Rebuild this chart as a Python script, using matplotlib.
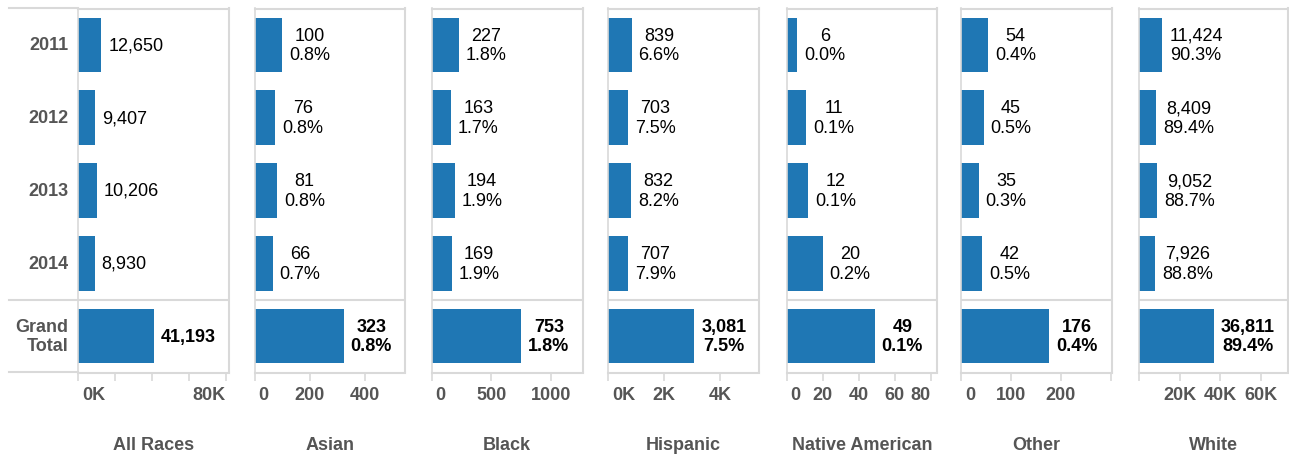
import matplotlib
matplotlib.use('Agg')
from matplotlib import pyplot as plt
import numpy as np

plt.rcParams['font.family'] = ['Liberation Sans', 'DejaVu Sans']

# ------------------------------------------------------------------
# Data
# ------------------------------------------------------------------
years = ['2011', '2012', '2013', '2014']
races = ['All Races', 'Asian', 'Black', 'Hispanic', 'Native American', 'Other', 'White']

all_races       = [12650, 9407, 10206, 8930]
asian           = [100, 76, 81, 66]
black           = [227, 163, 194, 169]
hispanic        = [839, 703, 832, 707]
native_american = [6, 11, 12, 20]
other           = [54, 45, 35, 42]
white           = [11424, 8409, 9052, 7926]

series = [all_races, asian, black, hispanic, native_american, other, white]

# axis ranges and ticks per panel
x_max = [81400, 545, 1265, 5390, 83.6, 302, 73200]
x_ticks = [[0, 20000, 40000, 60000, 80000], [0, 200, 400], [0, 500, 1000],
           [0, 2000, 4000], [0, 20, 40, 60, 80], [0, 100, 200, 300],
           [0, 20000, 40000, 60000]]
x_tick_labels = [['0K', '', '', '', '80K'], ['0', '200', '400'], ['0', '500', '1000'],
                 ['0K', '2K', '4K'], ['0', '20', '40', '60', '80'], ['0', '100', '200', ''],
                 ['', '20K', '40K', '60K']]

# ------------------------------------------------------------------
# Layout (pixels)
# ------------------------------------------------------------------
W, H = 1289, 456
lefts  = [78, 254.5, 431.5, 608, 786.5, 961, 1139]
widths = [150.5, 150.5, 151, 151, 150.5, 151, 149]
top_px, bot_px = 9.5, 373.5

BLUE  = '#1f77b4'
FRAME = '#d9d9d9'
GRAY  = '#555555'
FS    = 13

fig = plt.figure(figsize=(W / 100, H / 100), dpi=100)

totals = all_races + [sum(all_races)]
row_labels = years + ['Grand\nTotal']

for i, (name, vals) in enumerate(zip(races, series)):
    ax = fig.add_axes([lefts[i] / W, 1 - bot_px / H, widths[i] / W, (bot_px - top_px) / H])
    values = vals + [sum(vals)]
    y = np.arange(len(values))
    ax.barh(y, values, height=0.75, color=BLUE, zorder=2)
    ax.set_ylim(len(values) - 0.5, -0.5)
    ax.set_xlim(0, x_max[i])
    ax.set_yticks([])
    ax.set_xticks(x_ticks[i], labels=[''] * len(x_ticks[i]))
    ax.tick_params(axis='x', length=6, width=1.2, color=FRAME, labelbottom=False)

    for side, spine in ax.spines.items():
        spine.set_color(FRAME)
        spine.set_linewidth(1.5 if side != 'left' else 1.2)
    ax.axhline(3.5, color=FRAME, lw=1.5, zorder=1)

    # value labels
    for j, v in enumerate(values):
        if i == 0:
            text = f'{v:,}'
        else:
            text = f'{v:,}\n{v / totals[j] * 100:.1f}%'
        ax.annotate(text, xy=(v, j), xytext=(5, 0), textcoords='offset points',
                    ha='left', va='center', multialignment='center', fontsize=FS,
                    color='black', fontweight='bold' if j == len(values) - 1 else 'normal')

    # tick labels, pulled inward at the panel edges
    xt = ax.get_xaxis_transform()
    for t, lab in zip(x_ticks[i], x_tick_labels[i]):
        if not lab:
            continue
        ha, dx = 'center', 0
        if t == 0:
            ha, dx = 'left', 3
        elif (x_max[i] - t) / x_max[i] * widths[i] < 15:
            ha, dx = 'right', 0
        ax.annotate(lab, xy=(t, 0), xycoords=xt, xytext=(dx, -16.2), textcoords='offset points',
                    ha=ha, va='center', fontsize=FS, fontweight='bold', color=GRAY)

    # panel title
    ax.annotate(name, xy=(0.5, 0), xycoords='axes fraction', xytext=(0, -51.5),
                textcoords='offset points', ha='center', va='center',
                fontsize=FS, fontweight='bold', color=GRAY)

    if i == 0:
        yt = ax.get_yaxis_transform()
        for j, lab in enumerate(row_labels):
            ax.annotate(lab, xy=(0, j), xycoords=yt, xytext=(-7, 0), textcoords='offset points',
                        ha='right', va='center', multialignment='right',
                        fontsize=FS, fontweight='bold', color=GRAY)
        # header column borders
        x0 = (9 - lefts[0]) / widths[0]
        for yy in (-0.5, 3.5, 4.5):
            ax.plot([x0, 0], [yy, yy], transform=yt, color=FRAME, lw=1.5, clip_on=False)

fig.savefig('out.png', dpi=100)
